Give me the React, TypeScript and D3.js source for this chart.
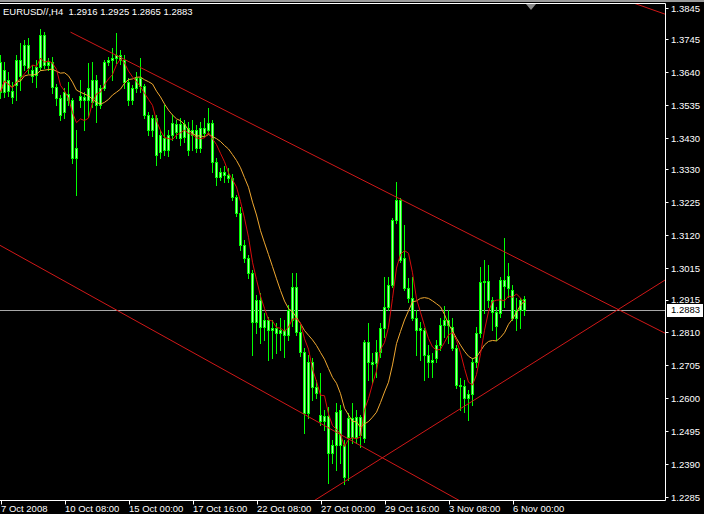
import React from "react";
import * as d3 from "d3";

const chartTitle = "EURUSD//,H4  1.2916 1.2925 1.2865 1.2883";

const openP = [
  1.3673, 1.3577, 1.3615, 1.358, 1.3599, 1.3679, 1.3663, 1.3727, 1.3647, 1.3631,
  1.3657, 1.3759, 1.3663, 1.3673, 1.3593, 1.3558, 1.3513, 1.3571, 1.3551, 1.3366,
  1.3551, 1.3561, 1.3551, 1.3545, 1.3615, 1.3536, 1.359, 1.3673, 1.3679, 1.3685,
  1.3695, 1.3679, 1.3609, 1.3551, 1.359, 1.3622, 1.3596, 1.3504, 1.3456, 1.3494,
  1.3386, 1.343, 1.3392, 1.344, 1.3475, 1.343, 1.3475, 1.3462, 1.344, 1.3456,
  1.3398, 1.3462, 1.3456, 1.3478, 1.3354, 1.3306, 1.3322, 1.3312, 1.3303, 1.3242,
  1.3191, 1.3089, 1.3047, 1.3, 1.2843, 1.2913, 1.2827, 1.285, 1.2818, 1.2824,
  1.2808, 1.2818, 1.2802, 1.285, 1.2955, 1.2811, 1.2748, 1.2553, 1.2716, 1.2636,
  1.2547, 1.2528, 1.2543, 1.2425, 1.2451, 1.2563, 1.2451, 1.2476, 1.2537, 1.2476,
  1.254, 1.2473, 1.278, 1.2716, 1.2713, 1.2748, 1.2824, 1.2891, 1.2961, 1.3169,
  1.3232, 1.3047, 1.2952, 1.292, 1.2856, 1.2818, 1.2818, 1.2738, 1.2716, 1.2728,
  1.277, 1.2834, 1.285, 1.2827, 1.276, 1.2642, 1.2639, 1.2601, 1.2614, 1.2716,
  1.2808, 1.2971, 1.2974, 1.2913, 1.2875, 1.2872, 1.2977, 1.2952, 1.2945, 1.2856,
  1.2882, 1.2916,
];

const highP = [
  1.3695, 1.3673, 1.3641, 1.3609, 1.3695, 1.3733, 1.3743, 1.3749, 1.3663, 1.3679,
  1.3778, 1.3768, 1.3685, 1.3689, 1.3603, 1.3567, 1.359, 1.3609, 1.3558, 1.3456,
  1.3615, 1.3577, 1.367, 1.3673, 1.3631, 1.3599, 1.3679, 1.3689, 1.3717, 1.3765,
  1.3711, 1.3695, 1.3622, 1.3599, 1.3641, 1.3685, 1.3603, 1.3513, 1.3504, 1.3504,
  1.3456, 1.3536, 1.3456, 1.3504, 1.3488, 1.3494, 1.3488, 1.3481, 1.3488, 1.3472,
  1.3481, 1.3494, 1.3526, 1.3488, 1.3366, 1.3335, 1.3341, 1.3335, 1.3315, 1.3248,
  1.321, 1.3105, 1.3057, 1.3009, 1.2929, 1.2936, 1.2872, 1.2859, 1.285, 1.284,
  1.2856, 1.285, 1.2898, 1.3, 1.3, 1.2834, 1.276, 1.2738, 1.2728, 1.2658,
  1.2681, 1.2563, 1.2572, 1.2467, 1.2585, 1.2579, 1.2467, 1.2553, 1.2585, 1.2563,
  1.2547, 1.2786, 1.284, 1.2744, 1.2786, 1.284, 1.2987, 1.2987, 1.3175, 1.329,
  1.3239, 1.3153, 1.2984, 1.2987, 1.2882, 1.2843, 1.2824, 1.277, 1.2744, 1.2786,
  1.2856, 1.2894, 1.2882, 1.2856, 1.277, 1.2665, 1.2658, 1.2626, 1.2728, 1.2827,
  1.3019, 1.3041, 1.3025, 1.2923, 1.2891, 1.2987, 1.3111, 1.3032, 1.2961, 1.292,
  1.292, 1.2925,
];

const lowP = [
  1.3558, 1.3561, 1.3564, 1.3542, 1.3551, 1.3583, 1.3647, 1.3638, 1.3609, 1.3593,
  1.3647, 1.3654, 1.3647, 1.3574, 1.3536, 1.3488, 1.3494, 1.3536, 1.335, 1.3248,
  1.3529, 1.3456, 1.3497, 1.3529, 1.3481, 1.3526, 1.3583, 1.3663, 1.3615, 1.367,
  1.3666, 1.359, 1.3536, 1.3539, 1.3577, 1.3577, 1.3494, 1.344, 1.3437, 1.3344,
  1.3366, 1.3376, 1.3373, 1.3424, 1.343, 1.3408, 1.3417, 1.3376, 1.3392, 1.3386,
  1.3386, 1.3437, 1.3446, 1.3322, 1.328, 1.3296, 1.329, 1.329, 1.3232, 1.3181,
  1.3073, 1.3035, 1.2984, 1.2738, 1.2808, 1.2776, 1.2786, 1.2722, 1.2728, 1.2744,
  1.2754, 1.2732, 1.2786, 1.2831, 1.2802, 1.2735, 1.2489, 1.2537, 1.2594, 1.2601,
  1.2515, 1.2499, 1.233, 1.2394, 1.2371, 1.2394, 1.2327, 1.2339, 1.2457, 1.2457,
  1.2445, 1.2461, 1.2658, 1.2649, 1.2668, 1.2732, 1.2795, 1.2882, 1.2955, 1.3159,
  1.3035, 1.2945, 1.2907, 1.285, 1.2738, 1.2722, 1.2658, 1.2668, 1.2668, 1.2716,
  1.2754, 1.2795, 1.2776, 1.2754, 1.2633, 1.2561, 1.2556, 1.2531, 1.2579, 1.27,
  1.2795, 1.2872, 1.2891, 1.2818, 1.2786, 1.2859, 1.2891, 1.2923, 1.285, 1.2818,
  1.2824, 1.2865,
];

const closeP = [
  1.3577, 1.3647, 1.358, 1.3561, 1.3679, 1.3628, 1.3727, 1.3654, 1.3628, 1.3657,
  1.3759, 1.3663, 1.3673, 1.3593, 1.3558, 1.3504, 1.3577, 1.3551, 1.3366, 1.3398,
  1.3564, 1.3551, 1.359, 1.3615, 1.3536, 1.359, 1.3673, 1.3679, 1.3685, 1.3695,
  1.3679, 1.3609, 1.3551, 1.359, 1.3622, 1.3596, 1.3504, 1.3456, 1.3494, 1.3376,
  1.344, 1.3392, 1.344, 1.3478, 1.3449, 1.3475, 1.3433, 1.3392, 1.3456, 1.3398,
  1.3462, 1.3446, 1.3478, 1.3354, 1.3306, 1.3322, 1.3312, 1.3303, 1.3242, 1.3191,
  1.3089, 1.3047, 1.3, 1.2843, 1.2913, 1.2827, 1.285, 1.2818, 1.2824, 1.2808,
  1.2818, 1.2802, 1.2882, 1.2955, 1.2811, 1.2748, 1.2553, 1.2716, 1.2636, 1.2617,
  1.2528, 1.2543, 1.2425, 1.2451, 1.2556, 1.2451, 1.2349, 1.2537, 1.2476, 1.254,
  1.2483, 1.278, 1.2716, 1.2709, 1.2748, 1.2824, 1.2891, 1.2961, 1.3169, 1.3232,
  1.3041, 1.2952, 1.292, 1.2856, 1.2818, 1.2824, 1.2738, 1.2716, 1.2722, 1.277,
  1.2834, 1.285, 1.2834, 1.276, 1.2642, 1.2639, 1.2601, 1.2614, 1.2716, 1.2808,
  1.2971, 1.2974, 1.2913, 1.2875, 1.2831, 1.2977, 1.2958, 1.299, 1.2856, 1.2882,
  1.2913, 1.2883,
];

const xTickBars = [0, 16, 32, 48, 64, 80, 96, 112, 128];
const xTickLabels = [
  "7 Oct 2008", "10 Oct 08:00", "15 Oct 00:00", "17 Oct 16:00", "22 Oct 08:00",
  "27 Oct 00:00", "29 Oct 16:00", "3 Nov 08:00", "6 Nov 00:00",
];
const yTickValues = [
  1.3845, 1.3745, 1.364, 1.3535, 1.343, 1.333, 1.3225, 1.312, 1.3015, 1.2915,
  1.281, 1.2705, 1.26, 1.2495, 1.239, 1.2285,
];
const bidPrice = 1.2883;
const fastPeriod = 5;
const slowPeriod = 13;

// trend lines: two anchor points (bar index, price); ray = starts at first anchor
const trendBar1 = [17.5, 0, 80, 158.9];
const trendPrice1 = [1.3768, 1.3087, 1.2286, 1.3858];
const trendBar2 = [154, 100, 160, 166];
const trendPrice2 = [1.2886, 1.2378, 1.2928, 1.3826];
const trendRay = [true, false, false, false];

function sma(values: number[], period: number): number[] {
  return values.map((_, i) => d3.mean(values.slice(Math.max(0, i - period + 1), i + 1)) as number);
}

export default function App() {
  const W = 704;
  const H = 514;
  const plotRight = 665.5;
  const plotBottom = 500.5;
  const plotTop = 3.5;

  const x = d3.scaleLinear().domain([0, 1]).range([0.5, 4.5]);
  const y = d3.scaleLinear().domain([1.2285, 1.3845]).range([497, 8]);

  const fast = sma(closeP, fastPeriod);
  const slow = sma(closeP, slowPeriod);
  const line = d3
    .line<number>()
    .x((_, i) => x(i))
    .y((d) => y(d));

  const lime = "#00ff00";
  const font = "'Liberation Sans', Arial, sans-serif";
  const snap = (v: number) => Math.round(v) + 0.5;

  const trendPaths = trendBar1.map((b1, k) => {
    const x1 = x(b1), y1 = y(trendPrice1[k]);
    const x2 = x(trendBar2[k]), y2 = y(trendPrice2[k]);
    const m = (y2 - y1) / (x2 - x1);
    const xs = trendRay[k] ? x1 : -50;
    const xe = 720;
    return { xs, ys: y1 + m * (xs - x1), xe, ye: y1 + m * (xe - x1) };
  });

  return (
    <svg
      width={W}
      height={H}
      style={{ position: "fixed", left: 0, top: 0, background: "#000" }}
      fontFamily={font}
    >
      <defs>
        <clipPath id="plot">
          <rect x={0} y={4} width={665} height={496} />
        </clipPath>
      </defs>
      <rect x={0} y={0} width={W} height={H} fill="#000" />
      <rect x={0} y={0} width={W} height={2} fill="#9a9a9a" />

      <g clipPath="url(#plot)">
        <line
          x1={0}
          x2={plotRight}
          y1={snap(y(bidPrice))}
          y2={snap(y(bidPrice))}
          stroke="#a8a8a8"
          strokeWidth={1}
        />
        {closeP.map((c, i) => {
          const o = openP[i];
          const top = snap(y(Math.max(o, c)));
          const bot = snap(y(Math.min(o, c)));
          return (
            <g key={i}>
              <line
                x1={x(i)}
                x2={x(i)}
                y1={Math.round(y(highP[i]))}
                y2={Math.round(y(lowP[i])) + 1}
                stroke={lime}
                strokeWidth={1}
              />
              <rect
                x={x(i) - 1}
                y={top}
                width={2}
                height={Math.max(bot - top, 0)}
                fill="#a8ffa8"
                stroke={lime}
                strokeWidth={1}
              />
            </g>
          );
        })}
        <path d={line(slow) || ""} fill="none" stroke="#f0a830" strokeWidth={1} />
        <path d={line(fast) || ""} fill="none" stroke="#d80c0c" strokeWidth={1} />
        {trendPaths.map((t, k) => (
          <line key={k} x1={t.xs} y1={t.ys} x2={t.xe} y2={t.ye} stroke="#d01818" strokeWidth={1} />
        ))}
        <polygon points="526,4 536,4 531,10" fill="#8a8a8a" />
      </g>

      {/* frame */}
      <line x1={0} x2={plotRight} y1={plotTop} y2={plotTop} stroke="#fff" strokeWidth={1} />
      <line x1={plotRight} x2={plotRight} y1={plotTop} y2={plotBottom} stroke="#fff" strokeWidth={1} />
      <line x1={0} x2={plotRight} y1={plotBottom} y2={plotBottom} stroke="#fff" strokeWidth={1} />

      {/* y axis */}
      {yTickValues.map((v) => (
        <g key={v}>
          <line x1={plotRight} x2={plotRight + 3} y1={snap(y(v))} y2={snap(y(v))} stroke="#fff" />
          <text x={671} y={y(v) + 3.5} fill="#fff" fontSize={9.5}>
            {v.toFixed(4)}
          </text>
        </g>
      ))}
      <rect x={667} y={Math.round(y(bidPrice)) - 6} width={36} height={13} fill="#fff" />
      <text x={671} y={y(bidPrice) + 3.5} fill="#000" fontSize={9.5}>
        {bidPrice.toFixed(4)}
      </text>

      {/* x axis */}
      {xTickBars.map((b, k) => (
        <g key={b}>
          <line x1={snap(x(b))} x2={snap(x(b))} y1={plotBottom} y2={plotBottom + 4} stroke="#fff" />
          <text x={x(b) + 0.5} y={511.5} fill="#fff" fontSize={9.5}>
            {xTickLabels[k]}
          </text>
        </g>
      ))}

      <text x={3} y={15} fill="#fff" fontSize={9.5} style={{ whiteSpace: "pre" }}>
        {chartTitle}
      </text>
    </svg>
  );
}
